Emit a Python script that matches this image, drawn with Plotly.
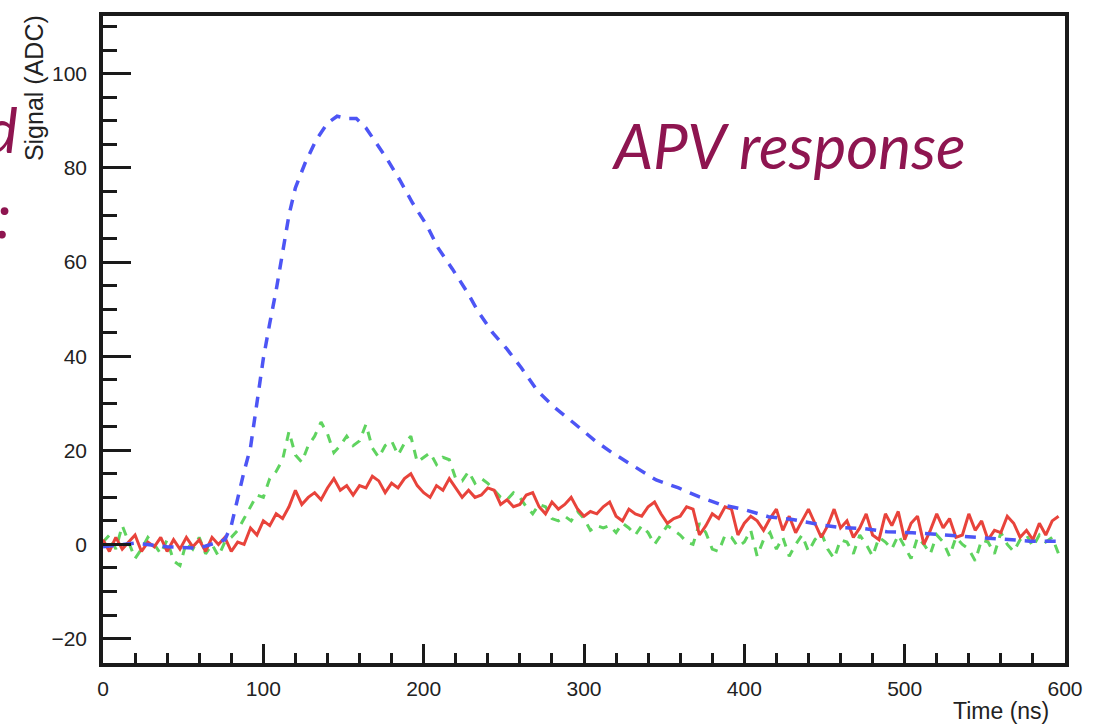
import plotly.graph_objects as go

# Sampling time for the two noisy waveforms (ns)
time_ns = list(range(0, 600, 4))

# Blue: ideal (noise-free) APV pulse shape
blue_time = [0, 20, 40, 60, 70, 76, 80, 84, 88, 92, 96, 100, 104, 108, 112, 116,
             120, 126, 133, 140, 146, 152, 158, 164, 170, 177, 185, 193, 202, 209,
             218, 227, 234, 243, 252, 261, 271, 282, 294, 307, 317, 332, 345, 359,
             372, 386, 400, 415, 430, 447, 460, 474, 489, 505, 520, 535, 547, 561,
             578, 596]
blue_signal = [-0.5, 0.3, -0.5, -0.8, 0.3, 1.0, 4.0, 10.0, 15.5, 20.6, 30.0, 39.5,
               47.0, 54.0, 62.0, 70.0, 75.8, 81.0, 86.0, 89.5, 91.0, 90.5, 90.5,
               88.5, 85.5, 82.0, 77.5, 72.6, 67.8, 63.0, 58.5, 53.7, 49.5, 45.0,
               41.5, 37.5, 32.6, 29.0, 25.7, 22.0, 19.6, 16.4, 13.7, 12.0, 10.1,
               8.4, 7.4, 5.9, 5.3, 4.2, 3.6, 3.4, 2.7, 2.5, 2.1, 1.7, 1.5, 1.0,
               0.7, 0.7]

# Red: measured response with noise
red_signal = [
    1.0, -1.5, 1.5, -1.0, 0.5, 2.0, -1.5, 0.5, -0.5, 1.5,
    -1.5, 1.0, -1.0, 1.5, -0.5, 1.0, -1.5, 1.5, 0.0, 1.5,
    -1.5, 0.5, 0.0, 3.5, 2.0, 5.0, 4.0, 6.5, 5.5, 8.0,
    11.5, 8.5, 10.0, 11.0, 9.5, 12.0, 14.0, 11.5, 12.5, 10.5,
    12.5, 12.0, 14.5, 13.5, 11.0, 13.0, 12.0, 14.0, 15.0, 12.5,
    11.0, 10.0, 12.5, 11.5, 14.0, 12.0, 10.0, 11.5, 10.0, 10.5,
    12.0, 11.5, 8.5, 9.5, 8.0, 8.5, 10.5, 11.0, 8.0, 6.5,
    9.0, 7.5, 8.5, 10.0, 7.5, 6.0, 7.0, 6.5, 8.0, 9.0,
    6.0, 5.0, 7.5, 6.5, 6.0, 8.0, 9.0, 6.5, 4.5, 5.5,
    6.0, 8.0, 7.5, 2.0, 4.0, 6.5, 5.5, 8.0, 7.5, 2.0,
    4.5, 6.0, 5.0, 3.0, 5.5, 7.5, 3.0, 6.0, 2.5, 5.0,
    7.5, 4.5, 1.5, 4.0, 7.5, 3.5, 5.0, 1.5, 3.5, 6.5,
    2.0, 1.0, 6.5, 4.0, 7.0, 1.0, 4.5, 6.0, 0.0, 3.0,
    6.5, 3.5, 5.5, 1.5, 2.0, 6.5, 3.0, 5.0, 1.0, 3.0,
    2.5, 6.0, 4.5, 1.5, 3.0, 1.0, 4.5, 2.0, 5.0, 6.0,
]

# Green: second noisy response
green_signal = [
    0.5, 2.0, -1.0, 4.0, 0.5, -3.0, -1.0, 1.5, 0.0, -2.0,
    1.0, -3.5, -4.5, 0.5, -1.0, 1.5, -2.0, 0.0, -2.5, 0.5,
    1.5, 3.0, 5.5, 8.0, 10.5, 10.0, 14.0, 15.5, 18.0, 24.0,
    19.0, 17.5, 21.0, 23.0, 26.0, 23.5, 19.5, 21.0, 23.0, 21.0,
    22.0, 25.5, 20.5, 18.5, 21.0, 22.0, 19.0, 21.5, 23.0, 17.5,
    18.5, 19.5, 17.0, 18.5, 18.0, 14.0, 13.5, 15.5, 13.0, 14.0,
    13.0, 11.5, 10.0, 9.5, 11.0, 10.0, 8.0, 6.5, 8.5, 8.0,
    5.5, 5.0, 6.0, 5.0, 7.0, 5.5, 3.0, 4.0, 3.5, 4.0,
    2.5, 4.5, 3.5, 2.0, 4.0, 2.5, 0.0, 2.0, 4.0, 3.0,
    2.0, 0.5, 0.0, 4.5, 2.5, -1.0, -1.5, 2.0, 1.5, -0.5,
    0.5, 3.0, -2.5, 1.0, 2.5, -1.0, 1.5, -2.5, 0.0, 2.0,
    -1.5, 1.0, 2.5, -1.0, -3.0, 1.0, 0.5, -2.0, 2.0, 0.0,
    -2.5, 1.5, 0.5, -1.0, 2.0, -0.5, -3.0, 1.5, 0.0, -2.0,
    2.0, 0.5, -2.5, 1.5, 0.0, -1.0, -3.5, 1.0, 0.5, -2.0,
    2.5, 0.0, -1.5, 1.0, 2.0, -0.5, 2.0, 0.5, 1.5, -2.0,
]

x_ticks = [0, 100, 200, 300, 400, 500, 600]
y_ticks = [-20, 0, 20, 40, 60, 80, 100]

fig = go.Figure()
fig.add_trace(go.Scatter(x=time_ns, y=green_signal, mode="lines",
                         line=dict(color="#5fd35f", width=3, dash="9px,8px")))
fig.add_trace(go.Scatter(x=time_ns, y=red_signal, mode="lines",
                         line=dict(color="#e8433b", width=3)))
fig.add_trace(go.Scatter(x=blue_time, y=blue_signal, mode="lines",
                         line=dict(color="#4d55f5", width=3.5, dash="11px,9px")))

axis_color = "#1a1a1a"
tick_font = dict(family="Liberation Sans, Arial, sans-serif", size=21, color="#222")
fig.update_xaxes(
    range=[0, 600], tickvals=x_ticks, ticktext=[str(v) for v in x_ticks],
    showline=True, mirror=True, linecolor=axis_color, linewidth=3.5,
    ticks="inside", ticklen=19, tickwidth=3, tickcolor=axis_color,
    minor=dict(ticks="inside", dtick=20, ticklen=10, tickwidth=3, tickcolor=axis_color),
    showgrid=False, zeroline=False, tickfont=tick_font, ticklabelstandoff=4,
)
fig.update_yaxes(
    range=[-25.2, 112.3], tickvals=y_ticks,
    ticktext=[str(v).replace("-", "\u2212") for v in y_ticks],
    showline=True, mirror=True, linecolor=axis_color, linewidth=3.5,
    ticks="inside", ticklen=28, tickwidth=3, tickcolor=axis_color,
    minor=dict(ticks="inside", dtick=5, ticklen=14, tickwidth=3, tickcolor=axis_color),
    showgrid=False, zeroline=False, tickfont=tick_font, ticklabelstandoff=8,
)

magenta = "#8e1550"
title_font = dict(family="Lato, sans-serif", size=62, color=magenta)
label_font = dict(family="Liberation Sans, Arial, sans-serif", size=23, color="#222")
fig.update_layout(
    width=1099, height=727,
    margin=dict(l=103, r=34, t=12, b=64),
    paper_bgcolor="white", plot_bgcolor="white",
    showlegend=False,
    annotations=[
        dict(text="Signal (ADC)", textangle=-90, xref="paper", yref="paper",
             x=-0.071, y=1.004, xanchor="center", yanchor="top", showarrow=False,
             font=dict(family="Liberation Sans, Arial, sans-serif", size=25, color="#222")),
        dict(text="Time (ns)", xref="paper", yref="paper",
             x=0.985, y=-0.074, xanchor="right", yanchor="middle", showarrow=False,
             font=label_font),
        dict(text="<i>APV response</i>", xref="paper", yref="paper",
             x=0.713, y=0.80, xanchor="center", yanchor="middle", showarrow=False,
             font=title_font),
        dict(text="<i>d</i>", xref="paper", yref="paper",
             x=-0.086, y=0.825, xanchor="right", yanchor="middle", showarrow=False,
             font=title_font),
        dict(text="<i>:</i>", xref="paper", yref="paper",
             x=-0.094, y=0.694, xanchor="right", yanchor="middle", showarrow=False,
             font=title_font),
    ],
)

fig.write_html("out.html")
